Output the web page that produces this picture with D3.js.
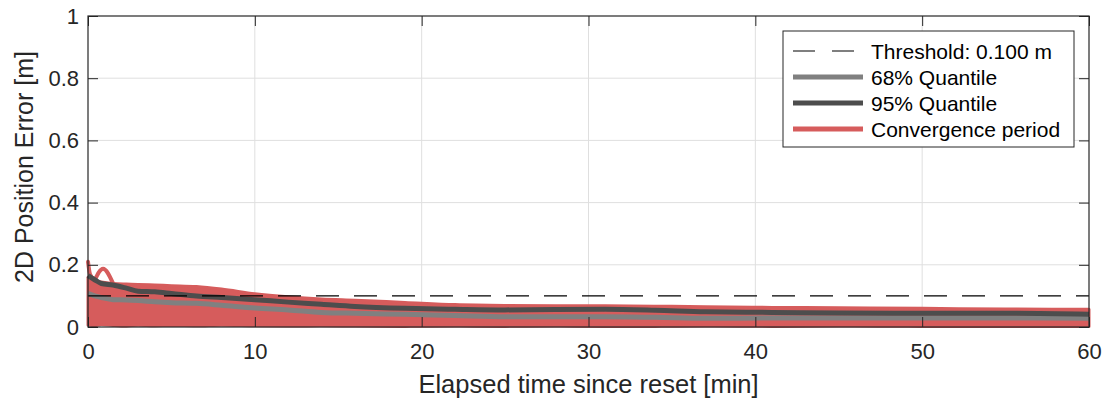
<!DOCTYPE html>
<html>
<head>
<meta charset="utf-8">
<script src="https://cdn.jsdelivr.net/npm/d3@7"></script>
<style>
    body { margin: 0; background: #fff; }
    svg { font-family: "Liberation Sans", Arial, Helvetica, sans-serif; }
</style>
</head>
<body>
<svg id="chart" width="1112" height="404"></svg>
<script>
/** Data */
// time since reset [min]
const timeMin = [0, 0.4, 0.8, 1.5, 2.3, 3, 4, 5, 6.5, 8, 10, 12, 14, 16, 19, 22, 25, 28, 31, 34, 37, 41, 45, 50, 55, 60];
// 95% quantile [m]
const q95 = [0.165, 0.152, 0.140, 0.135, 0.125, 0.115, 0.113, 0.108, 0.100, 0.095, 0.088, 0.080, 0.073, 0.066, 0.060, 0.057, 0.055, 0.056, 0.057, 0.054, 0.049, 0.047, 0.045, 0.044, 0.044, 0.041];
// 68% quantile [m]
const q68 = [0.108, 0.100, 0.095, 0.088, 0.087, 0.085, 0.081, 0.078, 0.076, 0.070, 0.061, 0.055, 0.047, 0.044, 0.041, 0.037, 0.033, 0.033, 0.033, 0.031, 0.028, 0.029, 0.029, 0.029, 0.029, 0.028];
// envelope of all convergence-period runs [m]
const runsUpper = [0.160, 0.150, 0.145, 0.140, 0.138, 0.137, 0.135, 0.133, 0.130, 0.122, 0.107, 0.097, 0.090, 0.086, 0.079, 0.072, 0.069, 0.068, 0.068, 0.067, 0.065, 0.063, 0.062, 0.060, 0.058, 0.057];
const runsLower = [0.006, 0.004, 0.008, 0.005, 0.003, 0.006, 0.004, 0.005, 0.004, 0.006, 0.004, 0.003, 0.004, 0.003, 0.002, 0.003, 0.002, 0.003, 0.002, 0.002, 0.003, 0.002, 0.003, 0.002, 0.002, 0.002];
// two single runs that spike at the start
const spikeRuns = [
    {t: [0, 0.12, 0.4], v: [0.21, 0.17, 0.15]},
    {t: [0.4, 0.9, 1.5], v: [0.15, 0.187, 0.14]}
];
const threshold = 0.1;

const xTicks = [0, 10, 20, 30, 40, 50, 60];
const yTicks = [0, 0.2, 0.4, 0.6, 0.8, 1];

const legendItems = ["Threshold: 0.100 m", "68% Quantile", "95% Quantile", "Convergence period"];

/** Colours */
const red = "#d65c5c";
const gray68 = "#808080";
const gray95 = "#4d4d4d";
const axisColor = "#262626";

let svg = d3.select("#chart");

let x = d3.scaleLinear().domain([0, 60]).range([88, 1089]);
let y = d3.scaleLinear().domain([0, 1]).range([327, 16]);

// grid
let grid = svg.append("g");
grid.selectAll("line.gx")
    .data(xTicks.slice(1, -1))
    .join("line")
    .attr("x1", d => x(d)).attr("x2", d => x(d))
    .attr("y1", y(0)).attr("y2", y(1))
    .attr("stroke", "#dfdfdf").attr("stroke-width", 1);
grid.selectAll("line.gy")
    .data(yTicks.slice(1, -1))
    .join("line")
    .attr("x1", x(0)).attr("x2", x(60))
    .attr("y1", d => y(d)).attr("y2", d => y(d))
    .attr("stroke", "#dfdfdf").attr("stroke-width", 1);

// convergence runs, drawn as a band plus the spiking runs
let band = timeMin.map((t, i) => ({t: t, lo: runsLower[i], hi: runsUpper[i]}));
let area = d3.area()
    .x(d => x(d.t))
    .y0(d => y(d.lo))
    .y1(d => y(d.hi))
    .curve(d3.curveMonotoneX);
svg.append("path")
    .datum(band)
    .attr("d", area)
    .attr("fill", red)
    .attr("stroke", red)
    .attr("stroke-width", 3)
    .attr("stroke-linejoin", "round");

let line = d3.line()
    .x(d => x(d[0]))
    .y(d => y(d[1]))
    .curve(d3.curveMonotoneX);

svg.selectAll("path.spike")
    .data(spikeRuns)
    .join("path")
    .attr("class", "spike")
    .attr("d", d => line(d.t.map((t, i) => [t, d.v[i]])))
    .attr("fill", "none")
    .attr("stroke", red)
    .attr("stroke-width", 4)
    .attr("stroke-linejoin", "round")
    .attr("stroke-linecap", "round");

// quantiles
[[q68, gray68], [q95, gray95]].forEach(([vals, col]) => {
    svg.append("path")
        .attr("d", line(timeMin.map((t, i) => [t, vals[i]])))
        .attr("fill", "none")
        .attr("stroke", col)
        .attr("stroke-width", 5)
        .attr("stroke-linejoin", "round");
});

// threshold
svg.append("line")
    .attr("x1", x(0)).attr("x2", x(60))
    .attr("y1", y(threshold)).attr("y2", y(threshold))
    .attr("stroke", "#000")
    .attr("stroke-width", 1.2)
    .attr("stroke-dasharray", "23,15");

// axes
svg.append("g")
    .attr("transform", "translate(0," + y(0) + ")")
    .call(d3.axisBottom(x).tickValues(xTicks).tickSizeInner(-10).tickSizeOuter(0).tickPadding(16));
svg.append("g")
    .attr("transform", "translate(" + x(0) + ",0)")
    .call(d3.axisLeft(y).tickValues(yTicks).tickFormat(d => d).tickSizeInner(-10).tickSizeOuter(0).tickPadding(9));
svg.append("g")
    .attr("transform", "translate(0," + y(1) + ")")
    .call(d3.axisTop(x).tickValues(xTicks).tickSizeInner(-10).tickSizeOuter(0).tickFormat(""));
svg.append("g")
    .attr("transform", "translate(" + x(60) + ",0)")
    .call(d3.axisRight(y).tickValues(yTicks).tickSizeInner(-10).tickSizeOuter(0).tickFormat(""));

svg.selectAll(".domain").remove();
svg.selectAll(".tick line").attr("stroke", axisColor);
svg.selectAll(".tick text")
    .attr("fill", axisColor)
    .style("font-size", "22px");

svg.append("rect")
    .attr("x", x(0)).attr("y", y(1))
    .attr("width", x(60) - x(0)).attr("height", y(0) - y(1))
    .attr("fill", "none")
    .attr("stroke", axisColor)
    .attr("stroke-width", 1.2);

// axis labels
svg.append("text")
    .attr("x", (x(0) + x(60)) / 2)
    .attr("y", 393)
    .attr("text-anchor", "middle")
    .attr("fill", axisColor)
    .style("font-size", "25.5px")
    .text("Elapsed time since reset [min]");

svg.append("text")
    .attr("transform", "translate(33," + 167 + ") rotate(-90)")
    .attr("text-anchor", "middle")
    .attr("fill", axisColor)
    .style("font-size", "25px")
    .text("2D Position Error [m]");

// legend
let legend = svg.append("g");
legend.append("rect")
    .attr("x", 783).attr("y", 31)
    .attr("width", 291).attr("height", 116)
    .attr("fill", "#fff")
    .attr("stroke", axisColor)
    .attr("stroke-width", 1);

let legendStyles = [
    {col: "#000", w: 1.2, dash: "22,17"},
    {col: gray68, w: 5, dash: null},
    {col: gray95, w: 5, dash: null},
    {col: red, w: 5, dash: null}
];

let rows = legend.selectAll("g.row")
    .data(legendItems)
    .join("g")
    .attr("class", "row")
    .attr("transform", (d, i) => "translate(0," + (51 + i * 26) + ")");

rows.append("line")
    .attr("x1", 793).attr("x2", 863)
    .attr("y1", 0).attr("y2", 0)
    .attr("stroke", (d, i) => legendStyles[i].col)
    .attr("stroke-width", (d, i) => legendStyles[i].w)
    .attr("stroke-dasharray", (d, i) => legendStyles[i].dash);

rows.append("text")
    .attr("x", 871)
    .attr("y", 7.5)
    .attr("fill", "#000")
    .style("font-size", "21px")
    .text(d => d);
</script>
</body>
</html>
